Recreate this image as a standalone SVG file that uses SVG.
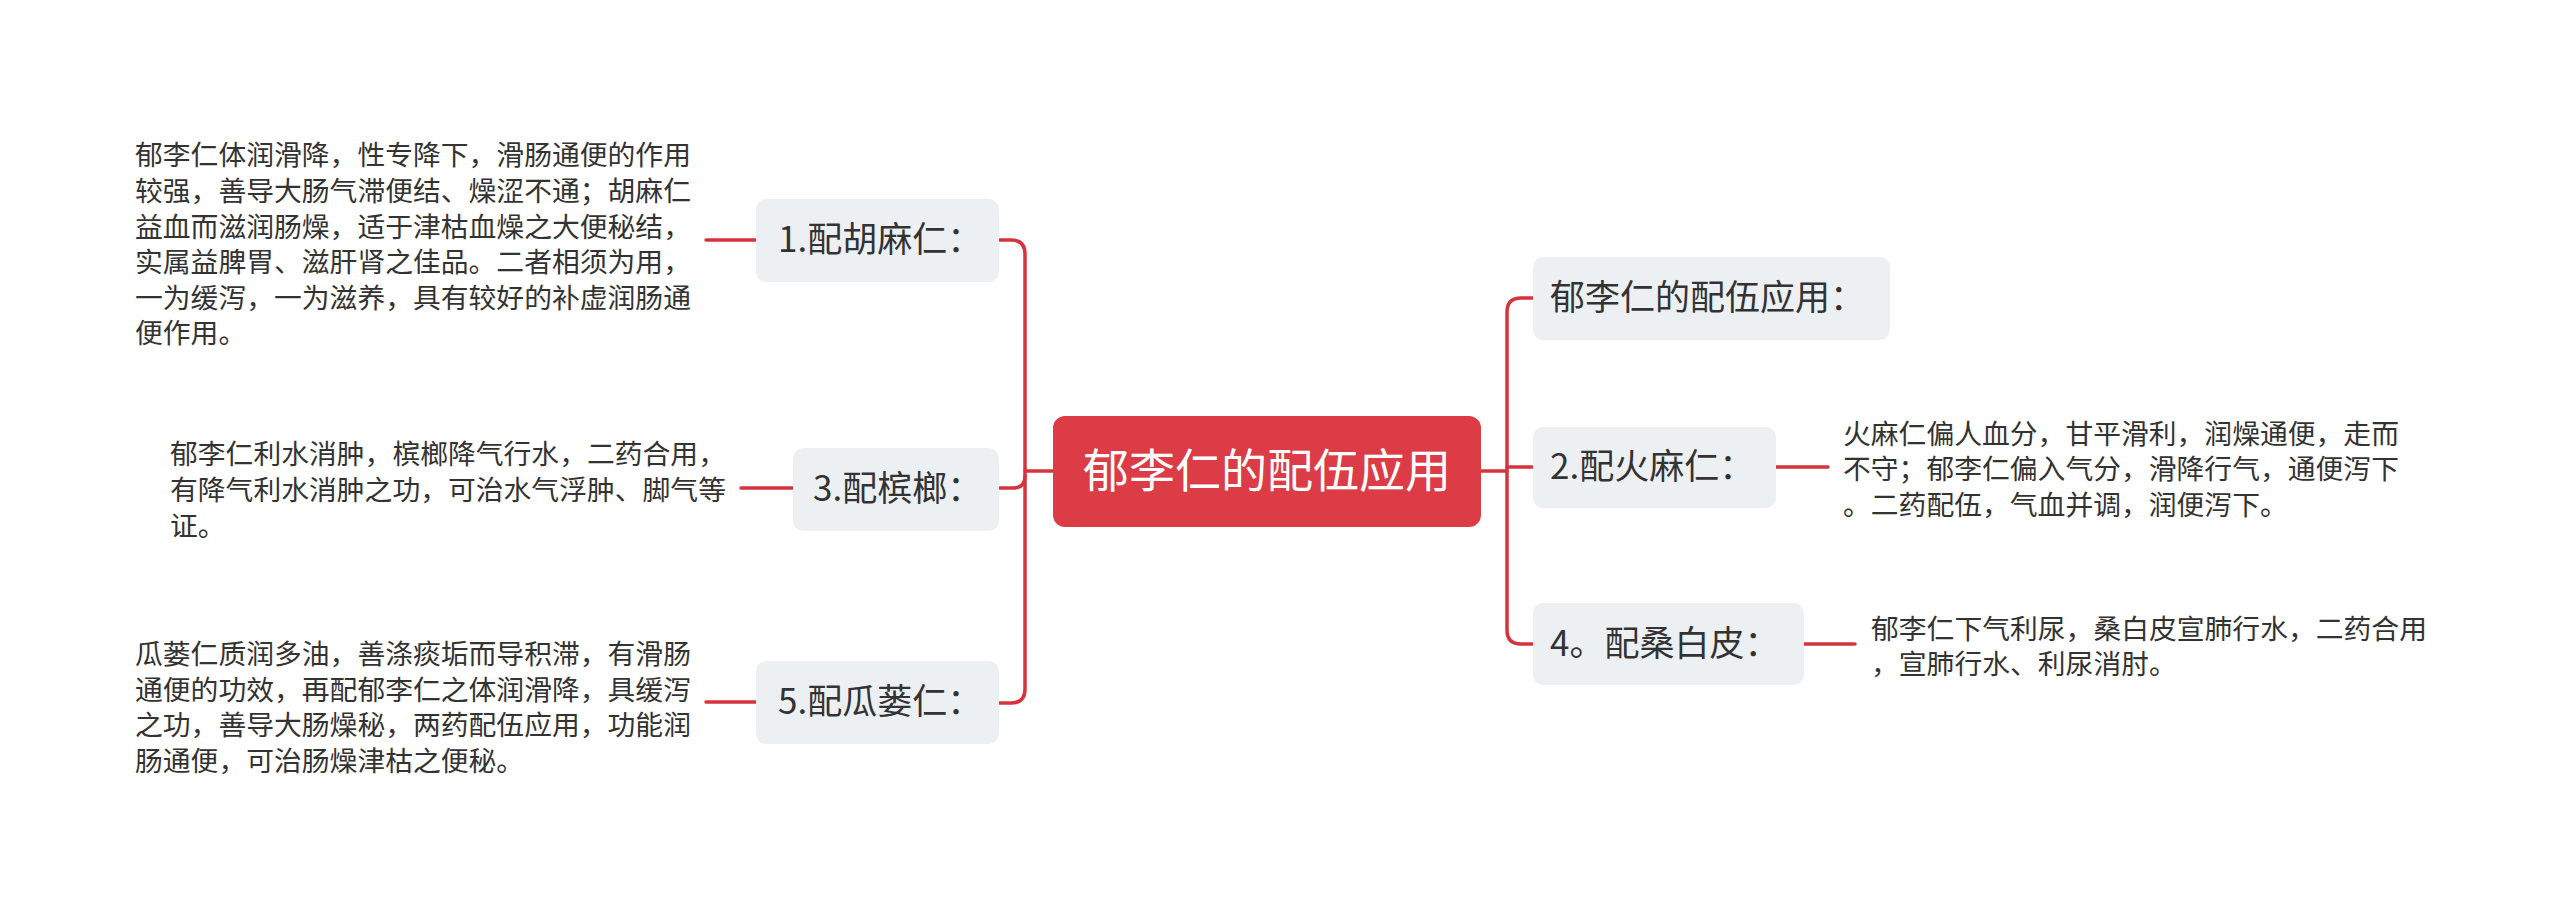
<svg xmlns="http://www.w3.org/2000/svg" width="2560" height="907" viewBox="0 0 2560 907">
<style>
text{font-family:"Noto Sans CJK SC","Noto Sans",sans-serif;}
.leaf{font-size:27.8px;fill:#333333;}
.br{fill:#edf0f3;}
.brt{font-size:35px;fill:#333333;}
.ln{fill:none;stroke:#d5343d;stroke-width:3.5;stroke-linecap:round;}
</style>
<rect width="2560" height="907" fill="#ffffff"/>
<g id="connectors">
<path class="ln" d="M1053 471 H1025"/>
<path class="ln" d="M999 240 H1011 Q1025 240 1025 254 V689 Q1025 703 1011 703 H999"/>
<path class="ln" d="M1025 476 Q1025 488 1013 488 H999"/>
<path class="ln" d="M1481 471 H1507"/>
<path class="ln" d="M1533 298 H1521 Q1507 298 1507 312 V630 Q1507 644 1521 644 H1533"/>
<path class="ln" d="M1507 467 H1533"/>
<path class="ln" d="M756 240 H706"/>
<path class="ln" d="M793 488 H741"/>
<path class="ln" d="M756 702 H706"/>
<path class="ln" d="M1776 467 H1828"/>
<path class="ln" d="M1804 644 H1855"/>
</g>
<g id="center">
<rect x="1053" y="416" width="428" height="111" rx="12" fill="#dc3c45"/>
<text x="1267" y="487" font-size="46" fill="#ffffff" text-anchor="middle">郁李仁的配伍应用</text>
</g>
<g id="n1">
<rect class="br" x="756" y="199" width="243" height="83" rx="10"/>
<text class="brt" x="778" y="252">1.配胡麻仁：</text>
</g>
<g id="n3">
<rect class="br" x="793" y="448" width="206" height="83" rx="10"/>
<text class="brt" x="813" y="501">3.配槟榔：</text>
</g>
<g id="n5">
<rect class="br" x="756" y="661" width="243" height="83" rx="10"/>
<text class="brt" x="778" y="714">5.配瓜蒌仁：</text>
</g>
<g id="n0">
<rect class="br" x="1533" y="257" width="357" height="83" rx="10"/>
<text class="brt" x="1550" y="310">郁李仁的配伍应用：</text>
</g>
<g id="n2">
<rect class="br" x="1533" y="427" width="243" height="81" rx="10"/>
<text class="brt" x="1550" y="479">2.配火麻仁：</text>
</g>
<g id="n4">
<rect class="br" x="1533" y="603" width="271" height="82" rx="10"/>
<text class="brt" x="1550" y="656">4。配桑白皮：</text>
</g>
<g id="t1">
<text class="leaf" x="135" y="165">郁李仁体润滑降，性专降下，滑肠通便的作用</text>
<text class="leaf" x="135" y="201">较强，善导大肠气滞便结、燥涩不通；胡麻仁</text>
<text class="leaf" x="135" y="237">益血而滋润肠燥，适于津枯血燥之大便秘结，</text>
<text class="leaf" x="135" y="272">实属益脾胃、滋肝肾之佳品。二者相须为用，</text>
<text class="leaf" x="135" y="308">一为缓泻，一为滋养，具有较好的补虚润肠通</text>
<text class="leaf" x="135" y="343">便作用。</text>
</g>
<g id="t3">
<text class="leaf" x="170" y="464">郁李仁利水消肿，槟榔降气行水，二药合用，</text>
<text class="leaf" x="170" y="500">有降气利水消肿之功，可治水气浮肿、脚气等</text>
<text class="leaf" x="170" y="536">证。</text>
</g>
<g id="t5">
<text class="leaf" x="135" y="664">瓜蒌仁质润多油，善涤痰垢而导积滞，有滑肠</text>
<text class="leaf" x="135" y="700">通便的功效，再配郁李仁之体润滑降，具缓泻</text>
<text class="leaf" x="135" y="735">之功，善导大肠燥秘，两药配伍应用，功能润</text>
<text class="leaf" x="135" y="771">肠通便，可治肠燥津枯之便秘。</text>
</g>
<g id="t2">
<text class="leaf" x="1843" y="444">火麻仁偏人血分，甘平滑利，润燥通便，走而</text>
<text class="leaf" x="1843" y="479">不守；郁李仁偏入气分，滑降行气，通便泻下</text>
<text class="leaf" x="1843" y="515">。二药配伍，气血并调，润便泻下。</text>
</g>
<g id="t4">
<text class="leaf" x="1871" y="639">郁李仁下气利尿，桑白皮宣肺行水，二药合用</text>
<text class="leaf" x="1871" y="674">，宣肺行水、利尿消肘。</text>
</g>
</svg>
